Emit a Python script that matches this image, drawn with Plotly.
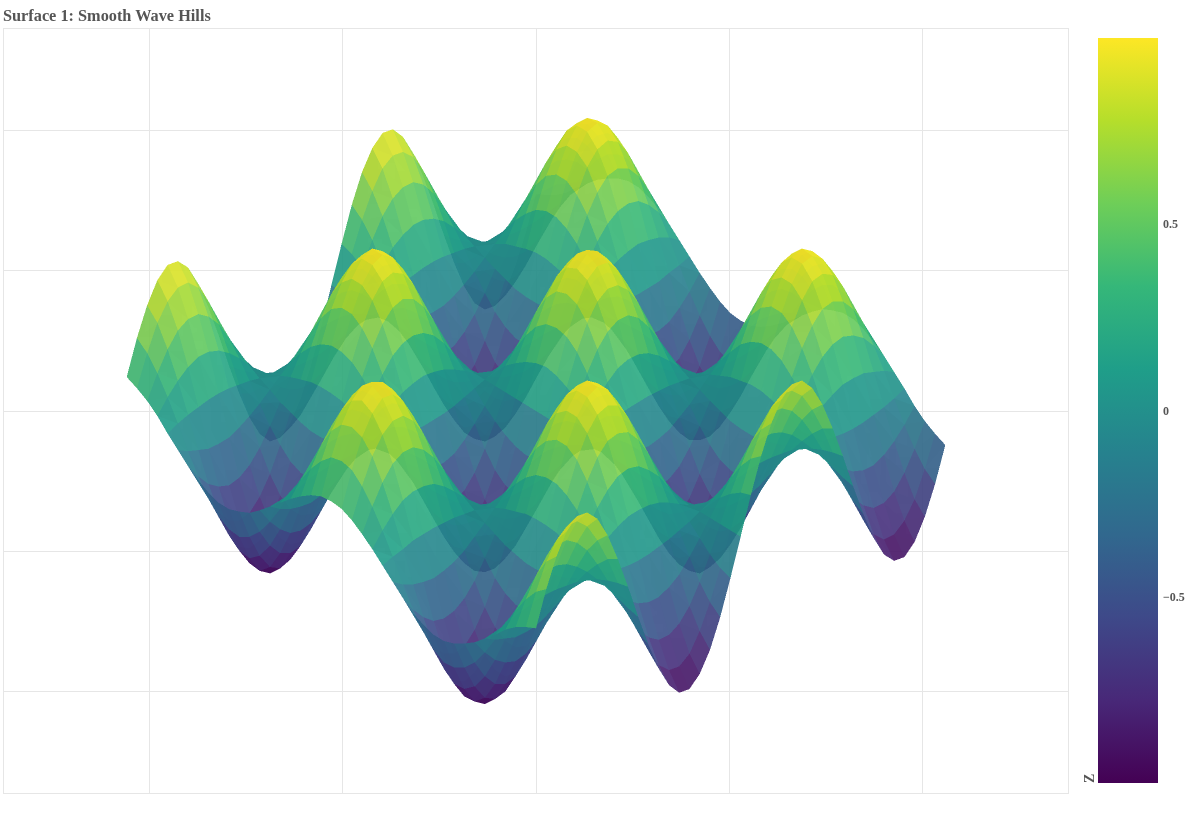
import plotly.graph_objects as go

X = [-6.0,-5.7,-5.4,-5.1,-4.8,-4.5,-4.2,-3.9,-3.6,-3.3,-3.0,-2.7,-2.4,-2.1,-1.8,-1.5,-1.2,-0.9,-0.6,-0.3,0.0,0.3,0.6,0.9,1.2,1.5,1.8,2.1,2.4,2.7,3.0,3.3,3.6,3.9,4.2,4.5,4.8,5.1,5.4,5.7,6.0]
Y = [-6.0,-5.7,-5.4,-5.1,-4.8,-4.5,-4.2,-3.9,-3.6,-3.3,-3.0,-2.7,-2.4,-2.1,-1.8,-1.5,-1.2,-0.9,-0.6,-0.3,0.0,0.3,0.6,0.9,1.2,1.5,1.8,2.1,2.4,2.7,3.0,3.3,3.6,3.9,4.2,4.5,4.8,5.1,5.4,5.7,6.0]

R0 = [.28,.55,.77,.93,.996,.98,.87,.69,.44,.16,-.14,-.43,-.68,-.86,-.97,-.998,-.93,-.78,-.56,-.30,0,.30,.56,.78,.93,.998,.97,.86,.68,.43,.14,-.16,-.44,-.69,-.87,-.98,-.996,-.93,-.77,-.55,-.28]
R1 = [.27,.53,.74,.88,.95,.93,.83,.66,.42,.15,-.13,-.41,-.65,-.82,-.93,-.95,-.89,-.75,-.54,-.28,0,.28,.54,.75,.89,.95,.93,.82,.65,.41,.13,-.15,-.42,-.66,-.83,-.93,-.95,-.88,-.74,-.53,-.27]
R2 = [.23,.45,.64,.76,.82,.81,.72,.57,.37,.13,-.12,-.35,-.56,-.71,-.80,-.82,-.77,-.65,-.47,-.24,0,.24,.47,.65,.77,.82,.80,.71,.56,.35,.12,-.13,-.37,-.57,-.72,-.81,-.82,-.76,-.64,-.45,-.23]
R3 = [.17,.34,.48,.58,.62,.61,.54,.43,.28,.10,-.09,-.27,-.42,-.54,-.61,-.62,-.58,-.49,-.35,-.18,0,.18,.35,.49,.58,.62,.61,.54,.42,.27,.09,-.10,-.28,-.43,-.54,-.61,-.62,-.58,-.48,-.34,-.17]
R4 = [.10,.20,.28,.34,.36,.35,.32,.25,.16,.06,-.05,-.15,-.24,-.31,-.35,-.36,-.34,-.28,-.20,-.11,0,.11,.20,.28,.34,.36,.35,.31,.24,.15,.05,-.06,-.16,-.25,-.32,-.35,-.36,-.34,-.28,-.20,-.10]
R5 = [.02,.04,.05,.07,.07,.07,.06,.05,.03,.01,-.01,-.03,-.05,-.06,-.07,-.07,-.07,-.06,-.04,-.02,0,.02,.04,.06,.07,.07,.07,.06,.05,.03,.01,-.01,-.03,-.05,-.06,-.07,-.07,-.07,-.05,-.04,-.02]
R6 = [-.06,-.13,-.18,-.21,-.23,-.22,-.20,-.16,-.10,-.04,.03,.10,.15,.20,.22,.23,.21,.18,.13,.07,0,-.07,-.13,-.18,-.21,-.23,-.22,-.20,-.15,-.10,-.03,.04,.10,.16,.20,.22,.23,.21,.18,.13,.06]
R7 = [-.14,-.28,-.39,-.47,-.50,-.49,-.44,-.35,-.22,-.08,.07,.22,.34,.44,.49,.50,.47,.40,.29,.15,0,-.15,-.29,-.40,-.47,-.50,-.49,-.44,-.34,-.22,-.07,.08,.22,.35,.44,.49,.50,.47,.39,.28,.14]
R8 = [-.21,-.41,-.57,-.68,-.73,-.72,-.64,-.51,-.33,-.12,.10,.32,.50,.64,.72,.74,.69,.58,.42,.22,0,-.22,-.42,-.58,-.69,-.74,-.72,-.64,-.50,-.32,-.10,.12,.33,.51,.64,.72,.73,.68,.57,.41,.21]
R9 = [-.25,-.50,-.70,-.84,-.90,-.88,-.79,-.62,-.40,-.14,.13,.39,.61,.78,.88,.90,.84,.71,.51,.27,0,-.27,-.51,-.71,-.84,-.90,-.88,-.78,-.61,-.39,-.13,.14,.40,.62,.79,.88,.90,.84,.70,.50,.25]
R10 = [-.28,-.55,-.77,-.92,-.99,-.97,-.86,-.68,-.44,-.16,.14,.42,.67,.85,.96,.99,.92,.78,.56,.29,0,-.29,-.56,-.78,-.92,-.99,-.96,-.85,-.67,-.42,-.14,.16,.44,.68,.86,.97,.99,.92,.77,.55,.28]
R11 = [-.28,-.54,-.76,-.91,-.98,-.97,-.86,-.68,-.44,-.16,.14,.42,.67,.85,.96,.99,.92,.77,.56,.29,0,-.29,-.56,-.77,-.92,-.99,-.96,-.85,-.67,-.42,-.14,.16,.44,.68,.86,.97,.98,.91,.76,.54,.28]
R12 = [-.25,-.49,-.69,-.83,-.89,-.88,-.78,-.62,-.40,-.14,.13,.38,.61,.77,.87,.89,.84,.70,.51,.27,0,-.27,-.51,-.70,-.84,-.89,-.87,-.77,-.61,-.38,-.13,.14,.40,.62,.78,.88,.89,.83,.69,.49,.25]
R13 = [-.20,-.40,-.56,-.67,-.72,-.71,-.63,-.50,-.32,-.11,.10,.31,.49,.63,.71,.72,.68,.57,.41,.21,0,-.21,-.41,-.57,-.68,-.72,-.71,-.63,-.49,-.31,-.10,.11,.32,.50,.63,.71,.72,.67,.56,.40,.20]
R14 = [-.14,-.27,-.38,-.45,-.49,-.48,-.43,-.34,-.22,-.08,.07,.21,.33,.42,.48,.49,.46,.38,.28,.14,0,-.14,-.28,-.38,-.46,-.49,-.48,-.42,-.33,-.21,-.07,.08,.22,.34,.43,.48,.49,.45,.38,.27,.14]
R15 = [-.06,-.12,-.16,-.20,-.21,-.21,-.18,-.14,-.09,-.03,.03,.09,.14,.18,.21,.21,.20,.17,.12,.06,0,-.06,-.12,-.17,-.20,-.21,-.21,-.18,-.14,-.09,-.03,.03,.09,.14,.18,.21,.21,.20,.16,.12,.06]
R16 = [.02,.05,.07,.08,.09,.09,.08,.06,.04,.01,-.01,-.04,-.06,-.08,-.09,-.09,-.08,-.07,-.05,-.03,0,.03,.05,.07,.08,.09,.09,.08,.06,.04,.01,-.01,-.04,-.06,-.08,-.09,-.09,-.08,-.07,-.05,-.02]
R17 = [.11,.21,.29,.35,.38,.37,.33,.26,.17,.06,-.05,-.16,-.26,-.33,-.37,-.38,-.35,-.30,-.21,-.11,0,.11,.21,.30,.35,.38,.37,.33,.26,.16,.05,-.06,-.17,-.26,-.33,-.37,-.38,-.35,-.29,-.21,-.11]
R18 = [.18,.35,.49,.59,.63,.62,.55,.44,.28,.10,-.09,-.27,-.43,-.55,-.62,-.63,-.59,-.50,-.36,-.19,0,.19,.36,.50,.59,.63,.62,.55,.43,.27,.09,-.10,-.28,-.44,-.55,-.62,-.63,-.59,-.49,-.35,-.18]
R19 = [.23,.46,.65,.77,.83,.82,.73,.57,.37,.13,-.12,-.36,-.56,-.72,-.81,-.83,-.78,-.65,-.47,-.25,0,.25,.47,.65,.78,.83,.81,.72,.56,.36,.12,-.13,-.37,-.57,-.73,-.82,-.83,-.77,-.65,-.46,-.23]
R20 = [.27,.53,.74,.89,.96,.94,.84,.66,.42,.15,-.14,-.41,-.65,-.83,-.94,-.96,-.89,-.75,-.54,-.28,0,.28,.54,.75,.89,.96,.94,.83,.65,.41,.14,-.15,-.42,-.66,-.84,-.94,-.96,-.89,-.74,-.53,-.27]
Z = [R20,R19,R18,R17,R16,R15,R14,R13,R12,R11,R10,R9,R8,R7,R6,R5,R4,R3,R2,R1,R0,R1,R2,R3,R4,R5,R6,R7,R8,R9,R10,R11,R12,R13,R14,R15,R16,R17,R18,R19,R20]

GRID_X = [-2,-1,0,1,2]
GRID_Y = [-2,-1,0,1,2]
TITLE = "Surface 1: Smooth Wave Hills"
FONT = "Liberation Serif"
INK = "#555555"
CB_TICKS = [-0.5, 0, 0.5]

# Mesh tables the library needs: one flat-coloured quad per grid cell,
# listed far-to-near so that the translucent cells stack as seen from the camera.
ny, nx = len(Y), len(X)
mx, my, mz = [], [], []
for r in range(ny):
    for c in range(nx):
        mx.append(X[c]); my.append(Y[r]); mz.append(Z[r][c])
ti, tj, tk, cell = [], [], [], []
for r in range(ny - 2, -1, -1):
    for c in range(nx - 2, -1, -1):
        a = r * nx + c
        b, d, e = a + 1, a + nx, a + nx + 1
        level = (mz[a] + mz[b] + mz[d] + mz[e]) / 4
        ti += [a, b]; tj += [b, e]; tk += [d, d]
        cell += [level, level]

fig = go.Figure()
fig.add_trace(go.Scatter(x=GRID_X, y=GRID_Y, mode="markers", marker=dict(opacity=0), hoverinfo="skip", showlegend=False))
fig.add_trace(go.Mesh3d(
    x=mx, y=my, z=mz, i=ti, j=tj, k=tk, intensity=cell, intensitymode="cell",
    colorscale="Viridis", cmin=-0.9975, cmax=0.9975, opacity=0.9, flatshading=True,
    lighting=dict(ambient=0.95, diffuse=0.1, specular=0, roughness=1, fresnel=0),
    colorbar=dict(thickness=60, outlinewidth=0, x=1.019, y=0.5006, yanchor="middle", lenmode="pixels", len=765,
                  tickvals=CB_TICKS, ticks="outside", ticklen=3, tickcolor="white",
                  tickfont=dict(family=FONT, size=12, color=INK, weight="bold")),
))
axis = dict(showticklabels=False, ticks="", zeroline=False, gridcolor="#e6e6e6", linecolor="#e6e6e6", mirror=True, showline=True)
fig.update_layout(
    width=1193, height=813, paper_bgcolor="white", plot_bgcolor="white",
    margin=dict(l=4, r=125, t=29, b=20, autoexpand=False),
    title=dict(text=TITLE, x=3/1193, xanchor="left", y=1-15/813, yanchor="middle",
               font=dict(family=FONT, size=16.3, color=INK, weight="bold")),
    xaxis=dict(range=[-2.756, 2.756], tickvals=GRID_X, **axis),
    yaxis=dict(range=[-2.722, 2.722], tickvals=GRID_Y, **axis),
    scene=dict(
        domain=dict(x=[0, 1], y=[0, 1]),
        xaxis=dict(visible=False), yaxis=dict(visible=False), zaxis=dict(visible=False),
        aspectmode="manual", aspectratio=dict(x=1.61, y=1.61, z=0.886),
        camera=dict(eye=dict(x=-1.3, y=-1.3, z=1.43), projection=dict(type="orthographic")),
    ),
    annotations=[dict(text="Z", xref="paper", yref="paper", x=1.0197, y=0.0196, xanchor="center", yanchor="middle",
                      showarrow=False, textangle=-90, font=dict(family=FONT, size=14, color=INK, weight="bold"))],
)
fig.write_html("out.html", config=dict(displayModeBar=False), post_script="document.body.style.margin='0';")
